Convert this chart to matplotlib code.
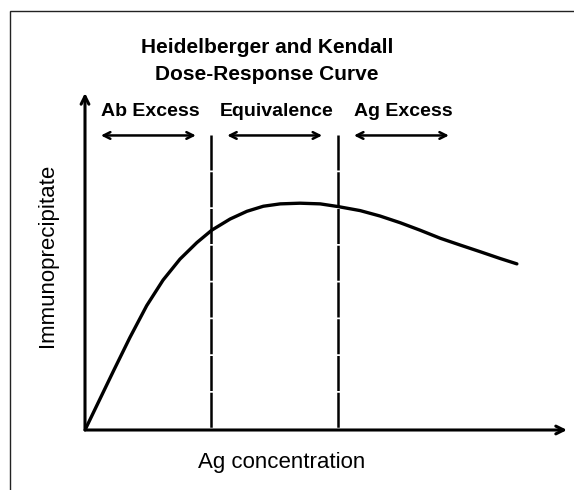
import matplotlib.pyplot as plt
from matplotlib.patches import Rectangle

plt.rcParams['font.family'] = ['Liberation Sans', 'DejaVu Sans']

# curve (arbitrary units, 0-100 on both axes)
ag_conc = [0, 5.9, 9.3, 12.8, 16.2, 19.7, 23.2, 26.3, 30.1, 33.6,
           37.0, 40.5, 44.6, 48.8, 52.5, 57.1, 61.2, 65.4, 69.5, 73.7,
           77.8, 82.0, 86.1, 89.6]
precip = [0, 17.5, 27.4, 36.9, 44.5, 50.7, 55.6, 59.3, 62.6, 64.9,
          66.4, 67.1, 67.3, 67.1, 66.3, 65.1, 63.5, 61.5, 59.3, 56.9,
          54.9, 52.9, 50.9, 49.3]

zone_bounds = [26.1, 52.5]
zone_names = ['Ab Excess', 'Equivalence', 'Ag Excess']
zone_arrows = [(3.3, 23.0), (29.5, 49.2), (55.8, 75.5)]

W, H = 574, 490
fig = plt.figure(figsize=(W / 100, H / 100), dpi=100)
fig.patches.append(Rectangle((10 / W, -0.1), 1.2, 1.1 - 11 / H,
                             transform=fig.transFigure, fill=False,
                             lw=1, ec='#222222'))

ax = fig.add_axes([85 / W, (H - 430) / H, (567 - 85) / W, (430 - 93) / H])
ax.set_xlim(0, 100)
ax.set_ylim(0, 100)
ax.axis('off')

# axes with arrow heads
ax.annotate('', xy=(100, 0), xytext=(0, 0),
            arrowprops=dict(arrowstyle='->', lw=2.2, color='black',
                            shrinkA=0, shrinkB=0, mutation_scale=14))
ax.annotate('', xy=(0, 100), xytext=(0, 0),
            arrowprops=dict(arrowstyle='->', lw=2.2, color='black',
                            shrinkA=0, shrinkB=0, mutation_scale=14))

ax.plot(ag_conc, precip, color='black', lw=2.4, solid_capstyle='round',
        solid_joinstyle='round')

top = 87.4
for xb in zone_bounds:
    ax.plot([xb, xb], [top, 0], color='black', lw=1.8, ls=(0, (14, 0.7)))

for name, (a, b) in zip(zone_names, zone_arrows):
    ax.annotate('', xy=(b, top), xytext=(a, top),
                arrowprops=dict(arrowstyle='<->', lw=1.8, color='black',
                                shrinkA=0, shrinkB=0, mutation_scale=12))
    ax.text((a + b) / 2 + 0.4, 94.6, name, ha='center', va='center',
            fontsize=14, fontweight='bold')

fig.text(267 / W, 1 - 61 / H,
         'Heidelberger and Kendall\nDose-Response Curve',
         ha='center', va='center', fontsize=15, fontweight='bold',
         linespacing=1.55)
fig.text(282 / W, 1 - 462 / H, 'Ag concentration', ha='center',
         va='center', fontsize=16)
fig.text(48 / W, 1 - 255 / H, 'Immunoprecipitate', ha='center',
         va='center', fontsize=16, rotation=90)

fig.savefig('out.png', dpi=100)
